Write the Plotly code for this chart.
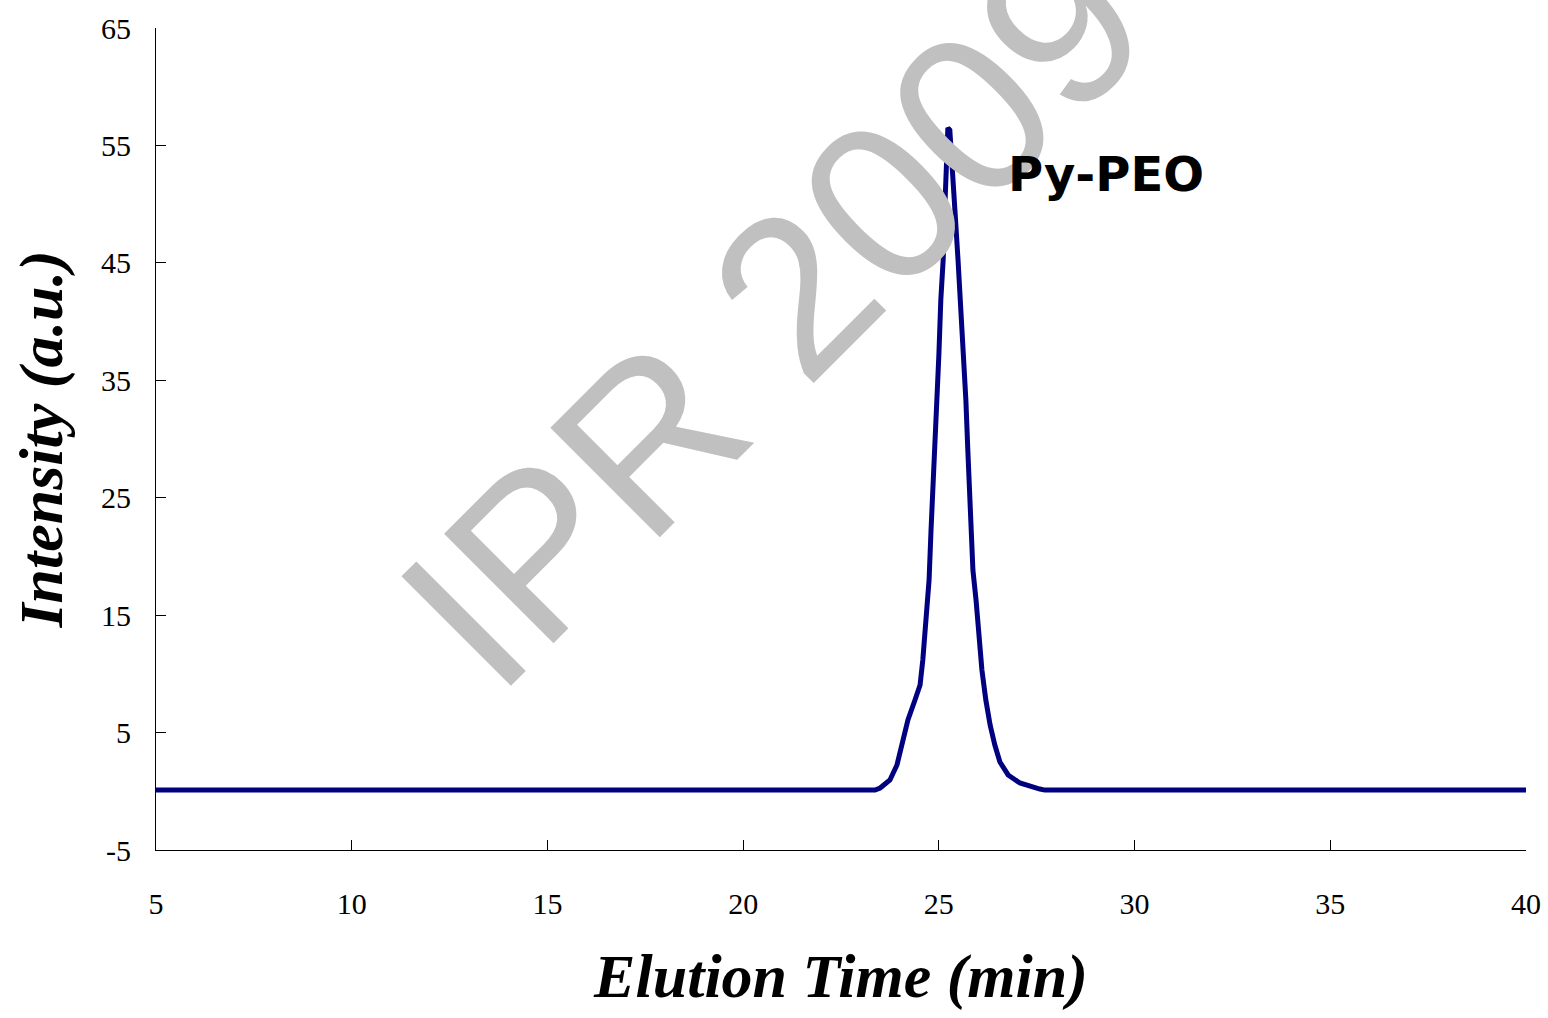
import plotly.graph_objects as go

# Elution time (min) and intensity (a.u.)
time_min = [5.0, 23.37, 23.50, 23.75, 23.93, 24.08, 24.21, 24.39, 24.52, 24.59, 24.67,
            24.75, 24.80, 24.85, 24.90, 24.95, 25.00, 25.05, 25.11, 25.16, 25.21, 25.23,
            25.28, 25.34, 25.41, 25.49, 25.57, 25.62, 25.69, 25.74, 25.80, 25.87, 25.95,
            26.03, 26.10, 26.20, 26.31, 26.43, 26.56, 26.77, 27.07, 27.58, 27.71, 40.0]
intensity = [0.1, 0.1, 0.28, 0.96, 2.24, 4.37, 6.07, 7.77, 9.05, 11.18, 14.16,
             17.99, 22.25, 25.66, 29.49, 33.32, 37.15, 41.84, 45.24, 50.35, 54.61, 56.5,
             56.31, 53.76, 49.50, 45.24, 40.99, 37.58, 33.32, 29.06, 24.80, 18.84, 16.29,
             12.88, 10.33, 7.77, 5.64, 3.94, 2.49, 1.39, 0.71, 0.19, 0.1, 0.1]

x_ticks = [5, 10, 15, 20, 25, 30, 35, 40]
y_ticks = [-5, 5, 15, 25, 35, 45, 55, 65]
y_tick_text = ["-5", "5", "15", "25", "35", "45", "55", "65"]
series_label = "Py-PEO"
watermark = "IPR 2009"

fig = go.Figure()
fig.add_trace(go.Scatter(x=time_min, y=intensity, mode="lines",
                         line=dict(color="#000080", width=5), showlegend=False))

fig.add_annotation(text=watermark, x=0.45, y=0.652, xref="paper", yref="paper",
                   showarrow=False, textangle=-45,
                   font=dict(family="Liberation Sans, Arial", size=225, color="#c0c0c0"))

fig.add_annotation(text="<b>" + series_label + "</b>", x=26.72, y=52.6, xanchor="left",
                   showarrow=False,
                   font=dict(family="DejaVu Sans", size=48, color="black"))

fig.update_layout(
    width=1548, height=1018,
    margin=dict(l=156, r=22, t=28, b=168),
    paper_bgcolor="white", plot_bgcolor="white",
    font=dict(family="Liberation Serif, Times New Roman", color="black"),
)
fig.update_xaxes(range=[5, 40], tickvals=x_ticks, ticks="inside", ticklen=10,
                 tickcolor="black", showgrid=False, zeroline=False, showline=True,
                 linecolor="black", linewidth=1, automargin=False,
                 tickfont=dict(size=30, family="Liberation Serif"), ticklabelstandoff=27,
                 title=dict(text="<b><i>Elution Time (min)</i></b>", standoff=34,
                            font=dict(size=62, family="Liberation Serif")))
fig.update_yaxes(range=[-5, 65], tickvals=y_ticks, ticktext=y_tick_text,
                 ticks="inside", ticklen=10,
                 tickcolor="black", showgrid=False, zeroline=False, showline=True,
                 linecolor="black", linewidth=1, automargin=False,
                 tickfont=dict(size=30, family="Liberation Serif"), ticklabelstandoff=18,
                 title=dict(text="<b><i>Intensity (a.u.)</i></b>", standoff=18,
                            font=dict(size=62, family="Liberation Serif")))

fig.write_html("out.html")
